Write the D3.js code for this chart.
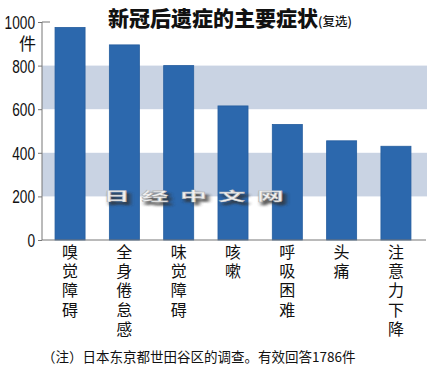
<!DOCTYPE html>
<html>
<head>
<meta charset="utf-8">
<script src="https://cdn.jsdelivr.net/npm/d3@7"></script>
<style>
  body { margin: 0; background: #fff; }
  svg { display: block; }
</style>
</head>
<body>
<div id="chart"></div>
<script>
var categories = ["嗅觉障碍", "全身倦怠感", "味觉障碍", "咳嗽", "呼吸困难", "头痛", "注意力下降"];
var values = [975, 895, 800, 615, 530, 455, 430];
var tickValues = [0, 200, 400, 600, 800, 1000];
var bandRanges = [[200, 400], [600, 800]];

var width = 430, height = 374;
var margins = { top: 22, right: 6, bottom: 134, left: 42 };
var cjk = "'Noto Sans CJK SC', 'Noto Sans', sans-serif";
var num = "'Liberation Sans', Arial, sans-serif";

var svg = d3.select("#chart").append("svg")
  .attr("width", width)
  .attr("height", height);

var defs = svg.append("defs");
defs.append("filter").attr("id", "blur")
  .append("feGaussianBlur").attr("stdDeviation", 1.4);

var x = d3.scaleBand()
  .domain(categories)
  .range([margins.left, width - margins.right])
  .paddingInner(0.447)
  .paddingOuter(0.24);

var y = d3.scaleLinear()
  .domain([0, 1000])
  .range([height - margins.bottom, margins.top]);

// shaded bands
svg.selectAll(".band")
  .data(bandRanges)
  .join("rect")
  .attr("class", "band")
  .attr("x", margins.left)
  .attr("y", d => y(d[1]))
  .attr("width", width - 3 - margins.left)
  .attr("height", d => y(d[0]) - y(d[1]))
  .style("fill", "#c9d3e3");

// bars
svg.selectAll(".bar")
  .data(values)
  .join("rect")
  .attr("class", "bar")
  .attr("x", (d, i) => x(categories[i]))
  .attr("y", d => y(d))
  .attr("width", x.bandwidth())
  .attr("height", d => y(0) - y(d))
  .style("fill", "#2c68ad")
  .style("stroke", "#255d9e")
  .style("stroke-width", 0.8);

// watermark (drawn over the bars, like the original)
var wm = svg.append("g").attr("transform", "translate(103,201) scale(1.35,0.6)");
wm.append("text")
  .attr("x", 2.5).attr("y", 4.5)
  .style("font-family", cjk)
  .style("font-size", "20px")
  .style("font-weight", "700")
  .style("letter-spacing", "8.5px")
  .style("fill", "#333")
  .style("stroke", "#333")
  .style("stroke-width", 1.5)
  .style("opacity", 0.8)
  .attr("filter", "url(#blur)")
  .text("日经中文网");
wm.append("text")
  .attr("x", 0).attr("y", 0)
  .style("font-family", cjk)
  .style("font-size", "20px")
  .style("font-weight", "700")
  .style("letter-spacing", "8.5px")
  .style("fill", "#f0f0f0")
  .style("stroke", "#b0b0b0")
  .style("stroke-width", 0.6)
  .text("日经中文网");

// y axis
var yAxis = svg.append("g")
  .attr("transform", "translate(" + margins.left + ",0)")
  .call(d3.axisLeft(y).tickValues(tickValues).tickFormat(d3.format("d")).tickSize(4).tickPadding(3));
yAxis.select(".domain").remove();
yAxis.selectAll("line").style("stroke", "#777");
yAxis.selectAll("text")
  .attr("dy", "0.36em")
  .attr("textLength", d => String(d).length * 7.6)
  .attr("lengthAdjust", "spacingAndGlyphs")
  .style("font-family", num)
  .style("font-size", "18px")
  .style("fill", "#111");

svg.append("line")
  .attr("x1", margins.left).attr("x2", margins.left)
  .attr("y1", y(1000)).attr("y2", y(0))
  .style("stroke", "#777");
svg.append("line")
  .attr("x1", margins.left).attr("x2", margins.left + 8)
  .attr("y1", y(1000)).attr("y2", y(1000))
  .style("stroke", "#777");
svg.append("line")
  .attr("x1", margins.left).attr("x2", width - 4)
  .attr("y1", y(0)).attr("y2", y(0))
  .style("stroke", "#777");

svg.append("text")
  .attr("x", 36)
  .attr("y", 50)
  .attr("text-anchor", "end")
  .style("font-family", cjk)
  .style("font-size", "17px")
  .style("fill", "#111")
  .text("件");

// vertical category labels
var labels = svg.selectAll(".cat")
  .data(categories)
  .join("text")
  .attr("class", "cat")
  .attr("text-anchor", "middle")
  .style("font-family", cjk)
  .style("font-size", "16px")
  .style("fill", "#111");
labels.selectAll("tspan")
  .data(d => d.split(""))
  .join("tspan")
  .attr("x", function() { var c = d3.select(this.parentNode).datum(); return x(c) + x.bandwidth() / 2; })
  .attr("y", (d, i) => 258 + i * 19.2)
  .text(d => d);

// title
var title = svg.append("text")
  .attr("x", 108)
  .attr("y", 26)
  .style("font-family", cjk)
  .style("fill", "#111");
title.append("tspan")
  .style("font-size", "21px")
  .style("font-weight", "900")
  .text("新冠后遗症的主要症状");
title.append("tspan")
  .style("font-size", "12.5px")
  .style("font-weight", "500")
  .text("(复选)");

// footnote
svg.append("text")
  .attr("x", 42)
  .attr("y", 362)
  .style("font-family", cjk)
  .style("font-size", "13.5px")
  .style("fill", "#111")
  .text("（注）日本东京都世田谷区的调查。有效回答1786件");
</script>
</body>
</html>
